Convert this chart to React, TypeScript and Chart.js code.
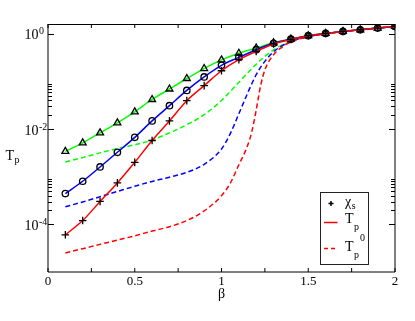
import React, { useEffect, useRef } from 'react';
import { Chart, registerables } from 'chart.js';

Chart.register(...registerables);

const FONT = '"Liberation Serif", "Times New Roman", Times, serif';

// beta values of the chi_s markers / solid lines
const betaMarks = [0.1, 0.2, 0.3, 0.4, 0.5, 0.6, 0.7, 0.8, 0.9, 1.0, 1.1, 1.2, 1.3, 1.4, 1.5, 1.6, 1.7, 1.8, 1.9, 2.0];

// chi_s (triangles, green solid T_p)
const chiTriangles = [3.39e-3, 5.13e-3, 8.32e-3, 1.35e-2, 2.29e-2, 4.17e-2, 6.92e-2, 0.115, 0.186, 0.282, 0.389, 0.501, 0.646, 0.776, 0.908, 1.014, 1.117, 1.213, 1.315, 1.422];
// chi_s (circles, blue solid T_p)
const chiCircles = [4.43e-4, 8.02e-4, 1.6e-3, 3.25e-3, 6.7e-3, 1.48e-2, 3.09e-2, 6.46e-2, 0.124, 0.217, 0.318, 0.462, 0.631, 0.767, 0.908, 1.014, 1.117, 1.213, 1.315, 1.422];
// chi_s (crosses, red solid T_p)
const chiCrosses = [6.03e-5, 1.2e-4, 3.02e-4, 7.41e-4, 2.0e-3, 5.75e-3, 1.48e-2, 3.94e-2, 8.13e-2, 0.167, 0.285, 0.426, 0.61, 0.759, 0.908, 1.014, 1.117, 1.213, 1.315, 1.422];

// T_p^0 dashed curves
const betaGreenDash = [0.1, 0.2, 0.3, 0.4, 0.5, 0.6, 0.7, 0.8, 0.9, 1.0, 1.1, 1.2, 1.3, 1.4, 1.5, 1.6, 1.7, 1.8, 1.9, 2.0];
const greenDash = [2.04e-3, 2.51e-3, 3.16e-3, 3.89e-3, 4.68e-3, 5.89e-3, 8.32e-3, 1.23e-2, 2.0e-2, 3.98e-2, 9.55e-2, 0.229, 0.457, 0.692, 0.871, 1.0, 1.109, 1.213, 1.315, 1.422];

const betaBlueDash = [0.1, 0.2, 0.3, 0.4, 0.5, 0.6, 0.7, 0.8, 0.9, 1.0, 1.05, 1.1, 1.15, 1.2, 1.25, 1.3, 1.35, 1.4, 1.5, 1.6, 1.7, 1.8, 1.9, 2.0];
const blueDash = [2.34e-4, 2.95e-4, 3.8e-4, 4.9e-4, 6.31e-4, 7.94e-4, 9.77e-4, 1.23e-3, 1.82e-3, 3.8e-3, 7.94e-3, 2.09e-2, 5.62e-2, 0.138, 0.263, 0.417, 0.562, 0.692, 0.871, 1.0, 1.109, 1.213, 1.315, 1.422];

const betaRedDash = [0.1, 0.2, 0.3, 0.4, 0.5, 0.6, 0.7, 0.8, 0.9, 1.0, 1.05, 1.1, 1.15, 1.175, 1.2, 1.225, 1.25, 1.3, 1.35, 1.4, 1.5, 1.6, 1.7, 1.8, 1.9, 2.0];
const redDash = [2.51e-5, 3.09e-5, 3.8e-5, 4.68e-5, 5.75e-5, 7.24e-5, 8.91e-5, 1.2e-4, 1.91e-4, 3.98e-4, 7.24e-4, 1.78e-3, 4.47e-3, 8.91e-3, 2.51e-2, 7.94e-2, 0.174, 0.363, 0.525, 0.676, 0.871, 1.0, 1.109, 1.213, 1.315, 1.422];

// axes / ticks
const xLabelTicks = [0, 0.5, 1, 1.5, 2];
const xTickLabels = ['0', '0.5', '1', '1.5', '2'];
const xTickMarks = [0, 0.25, 0.5, 0.75, 1, 1.25, 1.5, 1.75, 2];
const yMajorTicks = [1, 1e-2, 1e-4];
const yMajorExponents = ['0', '-2', '-4'];
const yMinorTicks = [2e-2, 3e-2, 4e-2, 5e-2, 6e-2, 7e-2, 8e-2, 9e-2, 2e-4, 3e-4, 4e-4, 5e-4, 6e-4, 7e-4, 8e-4, 9e-4];
const X_MIN = 0, X_MAX = 2, Y_MIN = 1e-5, Y_MAX = 1.6;

const xTitle = 'β';
const yTitleBase = 'T';
const yTitleSub = 'p';
const legendChi = 'χ';
const legendChiSub = 's';

const GREEN = 'rgb(0,255,0)';
const BLUE = 'rgb(0,0,255)';
const RED = 'rgb(255,0,0)';

const pts = (xs: number[], ys: number[]) => xs.map((x, i) => ({ x, y: ys[i] }));

function drawSubSup(ctx: CanvasRenderingContext2D, x: number, y: number, base: string, sub: string | null, sup: string | null, size: number, subSize: number, subDy: number, supDy: number) {
  ctx.font = `${size}px ${FONT}`;
  ctx.textAlign = 'left';
  ctx.textBaseline = 'alphabetic';
  ctx.fillText(base, x, y);
  const w = ctx.measureText(base).width;
  ctx.font = `${subSize}px ${FONT}`;
  let sx = x + w + 0.5;
  if (sub) {
    ctx.fillText(sub, sx, y + subDy);
    sx += ctx.measureText(sub).width + 1;
  }
  if (sup) ctx.fillText(sup, sx, y - supDy);
}

const decorPlugin = {
  id: 'decor',
  afterDraw(chart: any) {
    const { ctx, chartArea: a } = chart;
    const xs = chart.scales.x;
    const ys = chart.scales.y;
    ctx.save();
    ctx.fillStyle = '#000';
    ctx.strokeStyle = '#000';
    ctx.lineWidth = 1;
    // frame
    ctx.beginPath();
    ctx.moveTo(a.left, a.top + 0.5);
    ctx.lineTo(a.right, a.top + 0.5);
    ctx.stroke();
    ctx.beginPath();
    ctx.moveTo(a.left, a.top);
    ctx.lineTo(a.left, a.bottom);
    ctx.lineTo(a.right, a.bottom);
    ctx.lineTo(a.right, a.top);
    ctx.stroke();
    // x tick marks (bottom & top, inward)
    xTickMarks.forEach((v) => {
      const px = xs.getPixelForValue(v);
      ctx.beginPath();
      ctx.moveTo(px, a.bottom);
      ctx.lineTo(px, a.bottom - 4);
      ctx.moveTo(px, a.top);
      ctx.lineTo(px, a.top + 4);
      ctx.stroke();
    });
    // y tick marks
    yMajorTicks.forEach((v) => {
      const py = Math.round(ys.getPixelForValue(v)) + 0.5;
      ctx.beginPath();
      ctx.moveTo(a.left, py);
      ctx.lineTo(a.left + 6, py);
      ctx.moveTo(a.right, py);
      ctx.lineTo(a.right - 6, py);
      ctx.stroke();
    });
    yMinorTicks.forEach((v) => {
      const py = Math.round(ys.getPixelForValue(v)) + 0.5;
      ctx.beginPath();
      ctx.moveTo(a.left, py);
      ctx.lineTo(a.left + 4, py);
      ctx.moveTo(a.right, py);
      ctx.lineTo(a.right - 4, py);
      ctx.stroke();
    });
    // y tick labels 10^n
    yMajorTicks.forEach((v, i) => {
      const py = ys.getPixelForValue(v);
      drawSubSup(ctx, a.left - 23.5, py + 5.5, '10', null, yMajorExponents[i], 14, 10, 0, 5);
    });
    // y title
    drawSubSup(ctx, 5.5, 159.5, yTitleBase, yTitleSub, null, 14, 10, 3, 0);

    // legend box
    const lx = a.right - 74.5;
    const ly = a.top + 168.5;
    ctx.strokeStyle = '#222';
    ctx.strokeRect(lx, ly, 48, 72);
    // row 1: markers
    ctx.strokeStyle = '#000';
    ctx.lineWidth = 1.5;
    ctx.beginPath();
    ctx.moveTo(lx + 8, ly + 11); ctx.lineTo(lx + 13, ly + 11);
    ctx.moveTo(lx + 10.5, ly + 8.5); ctx.lineTo(lx + 10.5, ly + 13.5);
    ctx.stroke();
    ctx.fillStyle = '#000';
    drawSubSup(ctx, lx + 24.5, ly + 13.5, legendChi, legendChiSub, null, 14, 10, 3, 0);
    // row 2: solid red
    ctx.strokeStyle = RED;
    ctx.lineWidth = 1.5;
    ctx.beginPath();
    ctx.moveTo(lx + 3.5, ly + 30); ctx.lineTo(lx + 17, ly + 30);
    ctx.stroke();
    drawSubSup(ctx, lx + 24.5, ly + 30.5, yTitleBase, yTitleSub, null, 14, 10, 7, 0);
    // row 3: dashed red
    ctx.setLineDash([4, 3]);
    ctx.beginPath();
    ctx.moveTo(lx + 3.5, ly + 56); ctx.lineTo(lx + 17, ly + 56);
    ctx.stroke();
    ctx.setLineDash([]);
    drawSubSup(ctx, lx + 24.5, ly + 58, yTitleBase, yTitleSub, '0', 14, 10, 7, 10);
    ctx.restore();
  },
};

export default function App() {
  const ref = useRef<HTMLCanvasElement | null>(null);
  useEffect(() => {
    if (!ref.current) return;
    const lineDs = (label: string, xs: number[], ys: number[], color: string, dashed: boolean, pointStyle: any) => ({
      label,
      data: pts(xs, ys),
      borderColor: color,
      backgroundColor: 'transparent',
      borderWidth: 1.5,
      borderDash: dashed ? [5, 3] : [],
      cubicInterpolationMode: 'monotone' as const,
      pointStyle: pointStyle || false,
      pointRadius: pointStyle ? (pointStyle === 'circle' ? 3.2 : pointStyle === 'triangle' ? 4 : 3.8) : 0,
      pointBorderColor: '#000',
      pointBackgroundColor: 'transparent',
      pointBorderWidth: 1.3,
      fill: false,
    });
    const chart = new Chart(ref.current, {
      type: 'line',
      data: {
        datasets: [
          lineDs('chi_s crosses', betaMarks, chiCrosses, RED, false, 'cross'),
          lineDs('chi_s circles', betaMarks, chiCircles, BLUE, false, 'circle'),
          lineDs('chi_s triangles', betaMarks, chiTriangles, GREEN, false, 'triangle'),
          lineDs('T_p^0 red', betaRedDash, redDash, RED, true, null),
          lineDs('T_p^0 blue', betaBlueDash, blueDash, BLUE, true, null),
          lineDs('T_p^0 green', betaGreenDash, greenDash, GREEN, true, null),
        ],
      },
      options: {
        animation: false,
        responsive: true,
        maintainAspectRatio: false,
        events: [],
        layout: { padding: { left: 0, right: 20, top: 24, bottom: 0 } },
        plugins: { legend: { display: false }, tooltip: { enabled: false } },
        scales: {
          x: {
            type: 'linear',
            min: X_MIN,
            max: X_MAX,
            grid: { display: false, drawTicks: false },
            border: { display: false },
            afterBuildTicks: (s: any) => { s.ticks = xLabelTicks.map((v) => ({ value: v })); },
            afterFit: (s: any) => { s.height = 49; },
            ticks: {
              color: '#000', padding: 2, maxRotation: 0, font: { family: FONT, size: 13 },
              callback: (v: any) => { const i = xLabelTicks.indexOf(Number(v)); return i >= 0 ? xTickLabels[i] : ''; },
            },
            title: { display: true, text: xTitle, color: '#000', font: { family: FONT, size: 14 }, padding: { top: 0, bottom: 18 } },
          },
          y: {
            type: 'logarithmic',
            min: Y_MIN,
            max: Y_MAX,
            grid: { display: false, drawTicks: false },
            border: { display: false },
            ticks: { display: false },
            afterFit: (s: any) => { s.width = 48; },
          },
        },
      },
      plugins: [decorPlugin],
    });
    let alive = true;
    const fonts: any = (document as any).fonts;
    if (fonts && fonts.load) {
      Promise.all([fonts.load('14px "Liberation Serif"'), fonts.load('10px "Liberation Serif"')])
        .then(() => { if (alive) chart.update(); })
        .catch(() => {});
    }
    return () => { alive = false; chart.destroy(); };
  }, []);
  return (
    <div style={{ position: 'absolute', left: 0, top: 0, width: 415, height: 321, background: '#fff' }}>
      <canvas ref={ref} />
    </div>
  );
}
